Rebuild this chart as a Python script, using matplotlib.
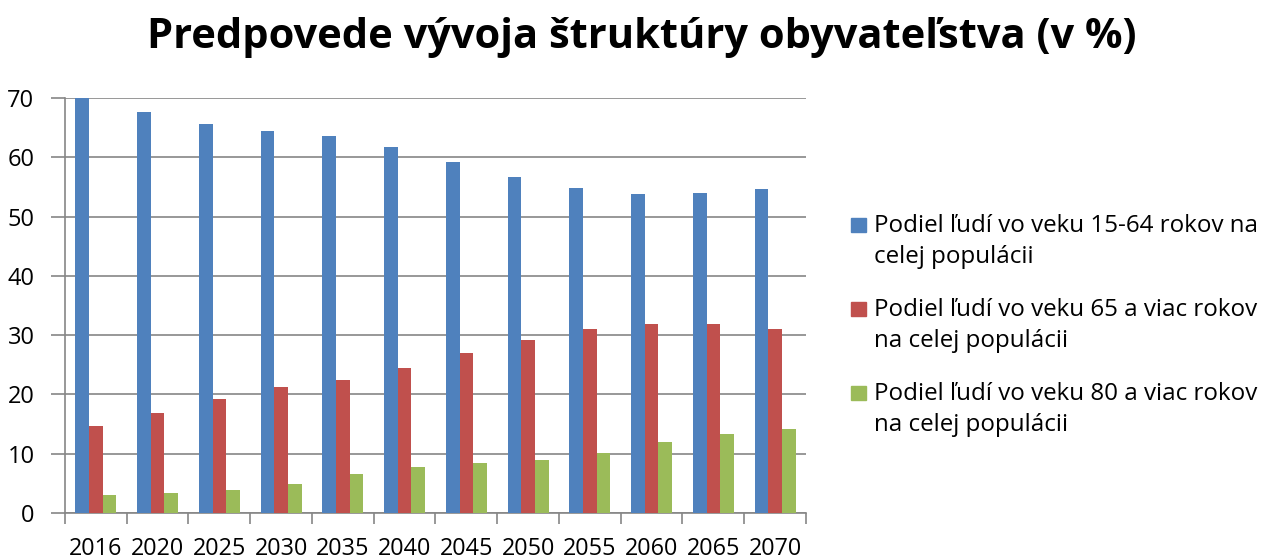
import numpy as np
import matplotlib.pyplot as plt
from matplotlib.patches import Rectangle

years = ['2016', '2020', '2025', '2030', '2035', '2040', '2045', '2050', '2055', '2060', '2065', '2070']
age_15_64 = [70.0, 67.7, 65.6, 64.4, 63.6, 61.8, 59.2, 56.7, 54.8, 53.8, 54.0, 54.7]
age_65_plus = [14.6, 16.9, 19.3, 21.2, 22.5, 24.5, 27.0, 29.2, 31.0, 31.9, 31.8, 31.1]
age_80_plus = [3.1, 3.4, 3.9, 4.9, 6.5, 7.7, 8.5, 8.9, 10.2, 11.9, 13.3, 14.2]

labels = [['Podiel ľudí vo veku 15-64 rokov na', 'celej populácii'],
          ['Podiel ľudí vo veku 65 a viac rokov', 'na celej populácii'],
          ['Podiel ľudí vo veku 80 a viac rokov', 'na celej populácii']]
colors = ['#4F81BD', '#C0504D', '#9BBB59']
grid_c = '#868686'

plt.rcParams['font.family'] = ['Open Sans', 'DejaVu Sans']

W, H = 1266, 559
fig = plt.figure(figsize=(W / 100, H / 100), dpi=100)
ax = fig.add_axes([65 / W, 1 - 513 / H, (806 - 65) / W, (513 - 98) / H])

x = np.arange(len(years))
w = 0.222
for i, (vals, c) in enumerate(zip([age_15_64, age_65_plus, age_80_plus], colors)):
    ax.bar(x + (i - 1) * w, vals, width=w, color=c, zorder=3)

ax.set_xlim(-0.5, len(years) - 0.5)
ax.set_ylim(0, 70)
ax.set_yticks(range(0, 71, 10))
ax.yaxis.grid(True, color=grid_c, linewidth=1.2, zorder=0)

# labels in the middle of each group, tick marks between groups
ax.set_xticks(x)
ax.set_xticklabels(years)
ax.set_xticks(np.arange(-0.5, len(years)), minor=True)
ax.tick_params(axis='x', which='major', length=0, pad=17, labelsize=16.8)
ax.tick_params(axis='x', which='minor', length=8, width=1.2, color=grid_c, direction='out')
ax.tick_params(axis='y', length=10, width=1.2, color=grid_c, labelsize=17, pad=12)

for s in ['top', 'right']:
    ax.spines[s].set_visible(False)
for s in ['left', 'bottom']:
    ax.spines[s].set_color(grid_c)
    ax.spines[s].set_linewidth(1.2)

# legend drawn by hand so the square sits on the first line
for i, (lines, c) in enumerate(zip(labels, colors)):
    base = 232 + i * 84
    fig.add_artist(Rectangle((851 / W, 1 - base / H), 15 / W, 14 / H,
                             transform=fig.transFigure, color=c))
    for j, line in enumerate(lines):
        fig.text(874 / W, 1 - (base + j * 31) / H, line, fontsize=17.4,
                 ha='left', va='baseline')

fig.text(642 / W, 1 - 48 / H, 'Predpovede vývoja štruktúry obyvateľstva (v %)',
         ha='center', va='baseline', fontsize=30, fontweight='bold')

fig.savefig('out.png', dpi=100)
